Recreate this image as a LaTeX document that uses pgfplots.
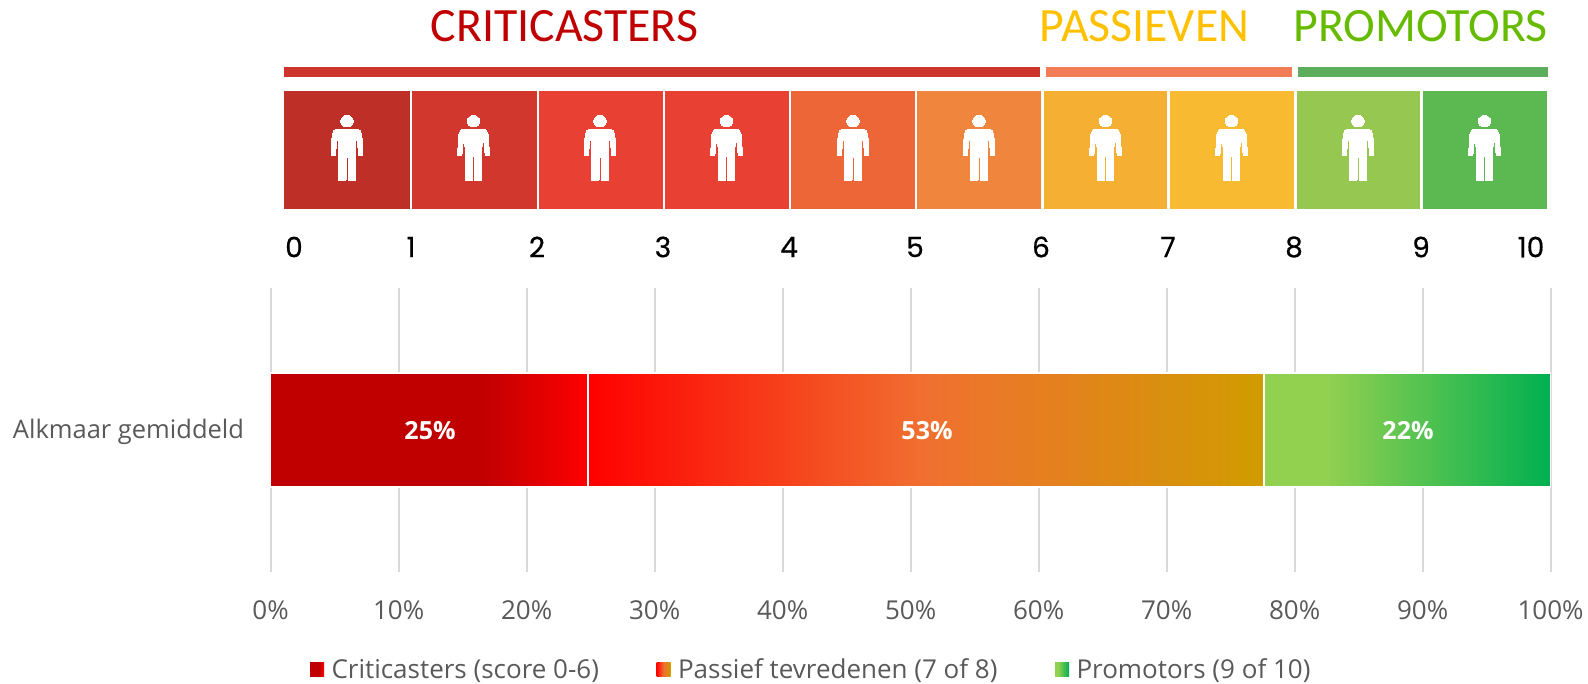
\documentclass[border=0pt]{standalone}
\usepackage{pgfplots}
\pgfplotsset{compat=1.18}
\usepackage{fontspec}
\setmainfont{Open Sans}
\newfontfamily\calib{Carlito}
\newfontfamily\geo[FakeBold=0.5]{Poppins}
\definecolor{gridg}{HTML}{D9D9D9}
\definecolor{txtg}{HTML}{595959}
\definecolor{critA}{HTML}{C00000}
\definecolor{critB}{HTML}{FF0000}
\definecolor{pasA}{HTML}{FF0000}
\definecolor{pasB}{HTML}{F07030}
\definecolor{pasC}{HTML}{D09C00}
\definecolor{proA}{HTML}{92D050}
\definecolor{proB}{HTML}{00B050}
\pgfdeclarehorizontalshading{critgrad}{100bp}{color(0bp)=(critA); color(25bp)=(critA); color(58bp)=(critA); color(75bp)=(critB); color(100bp)=(critB)}
\pgfdeclarehorizontalshading{pasgrad}{100bp}{color(0bp)=(pasA); color(25bp)=(pasA); color(50bp)=(pasB); color(75bp)=(pasC); color(100bp)=(pasC)}
\pgfdeclarehorizontalshading{prograd}{100bp}{color(0bp)=(proA); color(25bp)=(proA); color(36bp)=(proA); color(75bp)=(proB); color(100bp)=(proB)}
\pgfdeclareplotmark{person}{%
  \pgfsetlinewidth{0pt}%
  \fill[white] (0bp,28.8bp) ellipse (6.3bp and 5.8bp);
  \fill[white,rounded corners=1.1bp]
    (0bp,20bp) -- (-12.8bp,20bp) -- (-14.8bp,16bp) -- (-16bp,-6bp) -- (-11.8bp,-6bp) -- (-10bp,12bp) -- (-9.2bp,12bp)
    -- (-8.2bp,0bp) -- (-8.2bp,-31bp) -- (-1bp,-31bp) -- (-1bp,-6bp) -- (1bp,-6bp) -- (1bp,-31bp) -- (8.2bp,-31bp) -- (8.2bp,0bp)
    -- (9.2bp,12bp) -- (10bp,12bp) -- (11.8bp,-6bp) -- (16bp,-6bp) -- (14.8bp,16bp) -- (12.8bp,20bp) -- cycle;
}
\begin{document}
\begin{tikzpicture}[x=1bp,y=1bp]
\path[use as bounding box] (0bp,0bp) rectangle (1588bp,684bp);
% main chart
\begin{axis}[
  at={(270.6bp,112bp)}, anchor=south west,
  scale only axis, width=1280bp, height=284bp,
  xmin=0, xmax=100, ymin=-1, ymax=1,
  xbar stacked, bar width=113.5bp,
  axis line style={draw=none}, major tick length=0pt,
  /pgf/number format/assume math mode=true,
  xtick={0,10,...,100}, xticklabel={\pgfmathprintnumber{\tick}\%},
  ytick={0}, yticklabels={Alkmaar gemiddeld},
  xmajorgrids, ymajorgrids=false,
  grid style={gridg,line width=1.8bp},
  xticklabel style={font=\fontsize{26bp}{30bp}\selectfont, text=txtg, yshift=-25bp},
  yticklabel style={font=\fontsize{25.5bp}{29bp}\selectfont, text=txtg, xshift=-23bp,yshift=-2bp},
  clip=false,
  legend columns=3,
  legend image code/.code={\path[#1,draw=none] (0bp,-7bp) rectangle (14bp,7bp);},
  legend style={at={(0.4224,-0.343)},anchor=center,draw=none,fill=none,
    font=\fontsize{26bp}{30bp}\selectfont\color{txtg},
    /tikz/every odd column/.append style={column sep=5.5bp},
    /tikz/every even column/.append style={column sep=55.5bp}},
]
\addplot[draw=white,line width=1.6bp,shade,shading=critgrad] coordinates {(24.8,0)};
\addplot[draw=white,line width=1.6bp,shade,shading=pasgrad] coordinates {(52.8,0)};
\addplot[draw=white,line width=1.6bp,shade,shading=prograd] coordinates {(22.4,0)};
\legend{Criticasters (score 0-6),Passief tevredenen (7 of 8),Promotors (9 of 10)}
\draw[gridg,line width=1.8bp] (axis cs:0,-1) -- (axis cs:0,1);
\end{axis}
% header graphic, in image pixel coordinates
\begin{axis}[
  at={(0bp,0bp)}, anchor=south west,
  scale only axis, width=1588bp, height=684bp,
  xmin=0, xmax=1588, ymin=0, ymax=684, y dir=reverse,
  hide axis, clip=false,
]
\addplot[draw=none,fill={rgb,255:red,204;green,52;blue,44}] coordinates {(284,67)(1039.6,67)(1039.6,77)(284,77)} --cycle;
\addplot[draw=none,fill={rgb,255:red,240;green,125;blue,85}] coordinates {(1045.5,67)(1291.7,67)(1291.7,77)(1045.5,77)} --cycle;
\addplot[draw=none,fill={rgb,255:red,92;green,173;blue,92}] coordinates {(1298,67)(1547.5,67)(1547.5,77)(1298,77)} --cycle;
\addplot[draw=none,fill={rgb,255:red,190;green,47;blue,39}] coordinates {(283.5,91)(410,91)(410,209)(283.5,209)} --cycle;
\addplot[draw=none,fill={rgb,255:red,210;green,55;blue,45}] coordinates {(412,91)(536.5,91)(536.5,209)(412,209)} --cycle;
\addplot[draw=none,fill={rgb,255:red,233;green,64;blue,52}] coordinates {(538.5,91)(662.5,91)(662.5,209)(538.5,209)} --cycle;
\addplot[draw=none,fill={rgb,255:red,233;green,64;blue,52}] coordinates {(664.5,91)(788.5,91)(788.5,209)(664.5,209)} --cycle;
\addplot[draw=none,fill={rgb,255:red,236;green,102;blue,55}] coordinates {(791,91)(915,91)(915,209)(791,209)} --cycle;
\addplot[draw=none,fill={rgb,255:red,240;green,133;blue,62}] coordinates {(917,91)(1041,91)(1041,209)(917,209)} --cycle;
\addplot[draw=none,fill={rgb,255:red,245;green,175;blue,51}] coordinates {(1043.5,91)(1167,91)(1167,209)(1043.5,209)} --cycle;
\addplot[draw=none,fill={rgb,255:red,248;green,186;blue,49}] coordinates {(1169.5,91)(1294,91)(1294,209)(1169.5,209)} --cycle;
\addplot[draw=none,fill={rgb,255:red,150;green,199;blue,81}] coordinates {(1296.5,91)(1420,91)(1420,209)(1296.5,209)} --cycle;
\addplot[draw=none,fill={rgb,255:red,92;green,184;blue,80}] coordinates {(1422.5,91)(1546.7,91)(1546.7,209)(1422.5,209)} --cycle;
\addplot[only marks,mark=person,mark options={fill=white,draw=none}] coordinates {(347,150)(473.5,150)(600,150)(726.5,150)(853,150)(979,150)(1105.5,150)(1231.5,150)(1358,150)(1484.5,150)};
\node[text={rgb,255:red,192;green,0;blue,0},font=\calib\fontsize{47.8bp}{50bp}\selectfont] at (axis cs:564.5,26.5) {CRITICASTERS};
\node[text={rgb,255:red,255;green,192;blue,0},font=\calib\fontsize{47.8bp}{50bp}\selectfont] at (axis cs:1144.5,26.5) {PASSIEVEN};
\node[text={rgb,255:red,102;green,187;blue,0},font=\calib\fontsize{47.8bp}{50bp}\selectfont] at (axis cs:1420.5,26.5) {PROMOTORS};
\foreach \xx/\lab in {294/0,411/1,537/2,663/3,789/4,915/5,1041/6,1168/7,1294/8,1421/9,1531/10}{
  \edef\tmp{\noexpand\node[text=black,font=\noexpand\geo\noexpand\fontsize{28bp}{30bp}\noexpand\selectfont] at (axis cs:\xx,247) {\lab};}\tmp
}
\node[text=white,font=\fontsize{25bp}{29bp}\selectfont\bfseries] at (axis cs:430,431) {25\%};
\node[text=white,font=\fontsize{25bp}{29bp}\selectfont\bfseries] at (axis cs:927,431) {53\%};
\node[text=white,font=\fontsize{25bp}{29bp}\selectfont\bfseries] at (axis cs:1408,431) {22\%};
\end{axis}
\end{tikzpicture}
\end{document}
